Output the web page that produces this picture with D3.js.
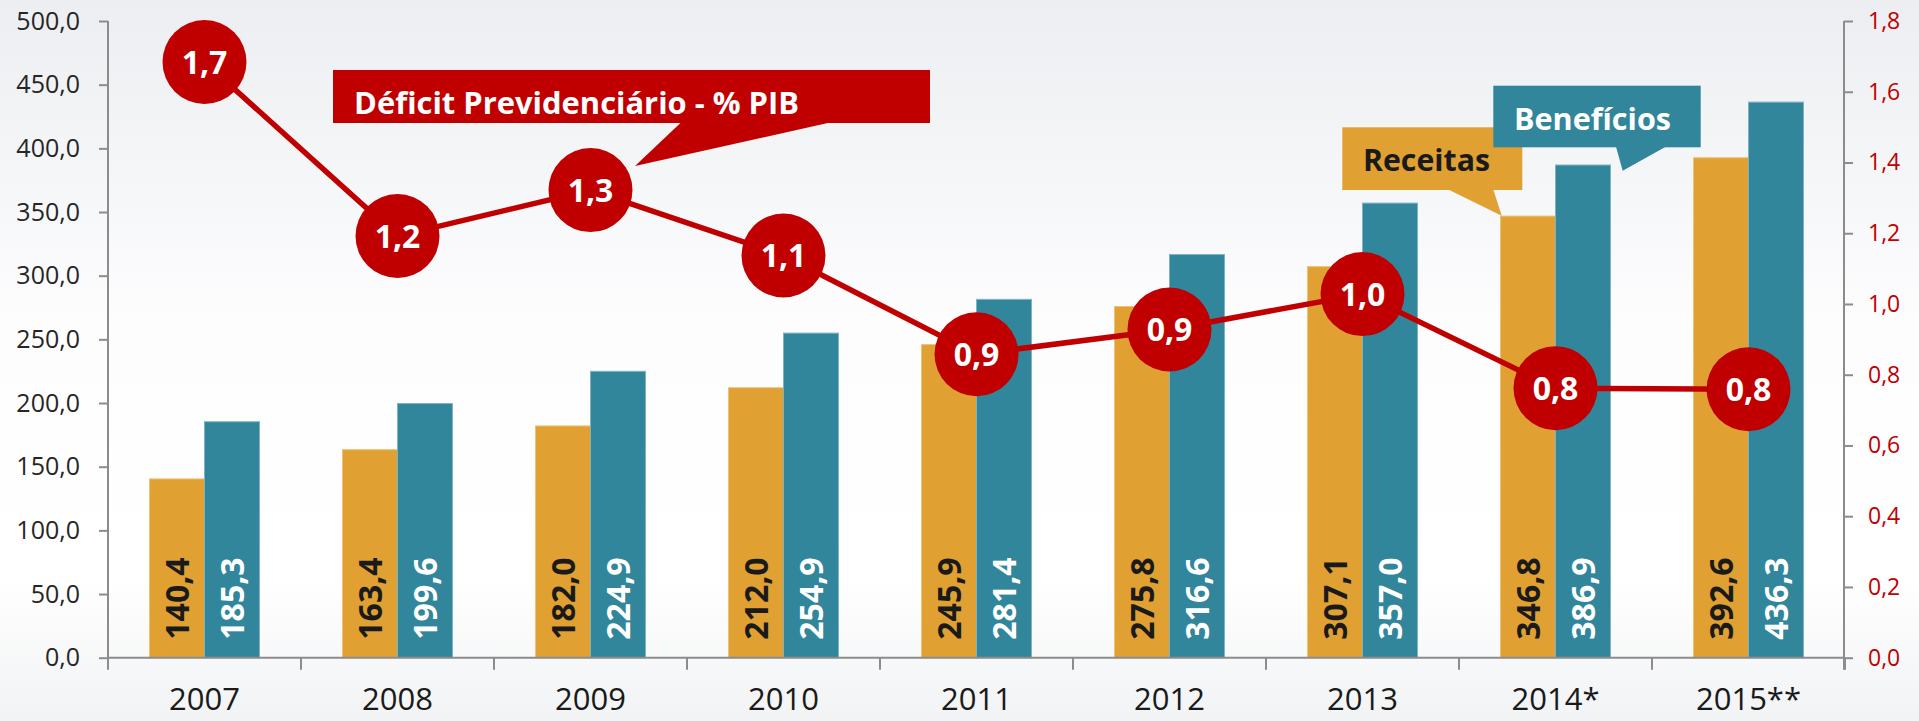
<!DOCTYPE html>
<html>
<head>
<meta charset="utf-8">
<script src="https://cdn.jsdelivr.net/npm/d3@7"></script>
<style>
  html, body { margin: 0; padding: 0; background: #fff; }
  svg { display: block; font-family: "Open Sans", sans-serif; }
</style>
</head>
<body>
<svg id="chart" width="1919" height="721"></svg>
<script>
// ---- data ----
const years = ["2007", "2008", "2009", "2010", "2011", "2012", "2013", "2014*", "2015**"];
const receitas = [140.4, 163.4, 182.0, 212.0, 245.9, 275.8, 307.1, 346.8, 392.6];
const beneficios = [185.3, 199.6, 224.9, 254.9, 281.4, 316.6, 357.0, 386.9, 436.3];
const deficitPIB = [1.684, 1.192, 1.322, 1.137, 0.858, 0.928, 1.028, 0.762, 0.759];
const leftTicks = [0, 50, 100, 150, 200, 250, 300, 350, 400, 450, 500];
const rightTicks = [0, 0.2, 0.4, 0.6, 0.8, 1.0, 1.2, 1.4, 1.6, 1.8];
const seriesNames = ["Receitas", "Benefícios"];
const lineTitle = "Déficit Previdenciário - % PIB";

// ---- styles ----
const ORANGE = "#E0A032", BLUE = "#32869C", RED = "#C00000", AXIS = "#8C8C8C";
const fmt = v => d3.format(".1f")(v).replace(".", ",");

const svg = d3.select("#chart");
const W = 1919, H = 721;

// background gradient
const defs = svg.append("defs");
const grad = defs.append("linearGradient").attr("id", "bg").attr("x1", 0).attr("y1", 0).attr("x2", 0).attr("y2", 1);
grad.append("stop").attr("offset", "0%").attr("stop-color", "#ECEEF1");
grad.append("stop").attr("offset", "45%").attr("stop-color", "#FDFDFE");
grad.append("stop").attr("offset", "80%").attr("stop-color", "#FFFFFF");
grad.append("stop").attr("offset", "100%").attr("stop-color", "#F2F3F5");
svg.append("rect").attr("width", W).attr("height", H).attr("fill", "url(#bg)");

// ---- scales ----
const plotLeft = 108, plotRight = 1845, plotTop = 21, plotBottom = 657.7;
const x = d3.scaleBand().domain(years).range([plotLeft, plotRight]).padding(0);
const inner = d3.scaleBand().domain(seriesNames)
  .range([x.bandwidth() * 0.215, x.bandwidth() * 0.785]).padding(0);
const yL = d3.scaleLinear().domain([0, 500]).range([plotBottom, plotTop]);
const yR = d3.scaleLinear().domain([0, 1.8]).range([plotBottom, plotTop]);

// ---- bars ----
const barData = [];
years.forEach((yr, i) => {
  barData.push({ yr, s: "Receitas", v: receitas[i] });
  barData.push({ yr, s: "Benefícios", v: beneficios[i] });
});
const bars = svg.append("g");
bars.selectAll("rect").data(barData).join("rect")
  .attr("x", d => x(d.yr) + inner(d.s))
  .attr("width", inner.bandwidth())
  .attr("y", d => yL(d.v))
  .attr("height", d => yL(0) - yL(d.v))
  .attr("fill", d => d.s === "Receitas" ? ORANGE : BLUE)
  .attr("stroke", d => d.s === "Receitas" ? "#EDC27A" : "#7FB3C4")
  .attr("stroke-width", 1);

bars.selectAll("text").data(barData).join("text")
  .attr("transform", d => `translate(${x(d.yr) + inner(d.s) + inner.bandwidth() / 2},${yL(0) - 18}) rotate(-90)`)
  .attr("dy", "0.36em")
  .attr("font-size", 32).attr("font-weight", 700)
  .attr("fill", d => d.s === "Receitas" ? "#1A1A1A" : "#FFFFFF")
  .text(d => fmt(d.v));

// ---- axes ----
const axL = svg.append("g").attr("transform", `translate(${plotLeft},0)`)
  .call(d3.axisLeft(yL).tickValues(leftTicks).tickSize(9).tickPadding(19).tickFormat(fmt));
axL.select(".domain").attr("stroke", AXIS).attr("stroke-width", 2).attr("d", `M0,${plotTop}V${plotBottom}`);
axL.selectAll(".tick line").attr("stroke", AXIS).attr("stroke-width", 2);
axL.selectAll(".tick text").attr("font-size", 25).attr("fill", "#262626").attr("font-family", "Open Sans");

const axR = svg.append("g").attr("transform", `translate(${plotRight - 1},0)`)
  .call(d3.axisRight(yR).tickValues(rightTicks).tickSize(9).tickPadding(15).tickFormat(fmt));
axR.select(".domain").attr("stroke", AXIS).attr("stroke-width", 2).attr("d", `M0,${plotTop}V${plotBottom + 12}`);
axR.selectAll(".tick line").attr("stroke", AXIS).attr("stroke-width", 2);
axR.selectAll(".tick text").attr("font-size", 23).attr("fill", RED).attr("font-family", "Open Sans");

const axB = svg.append("g").attr("transform", `translate(0,${plotBottom})`)
  .call(d3.axisBottom(x).tickSize(0).tickPadding(30));
axB.select(".domain").attr("stroke", AXIS).attr("stroke-width", 2).attr("d", `M${plotLeft},0H${plotRight}`);
axB.selectAll(".tick text").attr("font-size", 31).attr("fill", "#1A1A1A").attr("font-family", "Open Sans");
// category boundary ticks
svg.append("g").selectAll("line").data(years.concat(["__end"])).join("line")
  .attr("x1", (d, i) => i < years.length ? x(d) : x(years[years.length - 1]) + x.bandwidth())
  .attr("x2", (d, i) => i < years.length ? x(d) : x(years[years.length - 1]) + x.bandwidth())
  .attr("y1", plotBottom).attr("y2", plotBottom + 12)
  .attr("stroke", AXIS).attr("stroke-width", 2);

// ---- line ----
const cx = (i) => x(years[i]) + x.bandwidth() / 2;
const line = d3.line().x((d, i) => cx(i)).y(d => yR(d));
svg.append("path").datum(deficitPIB).attr("d", line)
  .attr("fill", "none").attr("stroke", RED).attr("stroke-width", 5.5);

// ---- callouts ----
function callout(rect, tail, fill, label, tx, ty, tlen, tcolor, fs) {
  const g = svg.append("g");
  g.append("rect").attr("x", rect[0]).attr("y", rect[1])
    .attr("width", rect[2] - rect[0]).attr("height", rect[3] - rect[1]).attr("fill", fill);
  g.append("path").attr("d", `M${tail[0]},${rect[3] - 0.5}L${tail[2]},${tail[3]}L${tail[1]},${rect[3] - 0.5}Z`).attr("fill", fill);
  g.append("text").attr("x", tx).attr("y", ty)
    .attr("font-size", fs).attr("font-weight", 700).attr("fill", tcolor)
    .attr("textLength", tlen).attr("lengthAdjust", "spacingAndGlyphs")
    .text(label);
}
callout([333, 70, 930, 123], [681, 830, 635, 166], RED, lineTitle, 354, 114, 445, "#FFFFFF", 31);
callout([1342.3, 127.3, 1522.3, 190], [1448.3, 1493.3, 1501.7, 215.7], ORANGE, seriesNames[0], 1363, 171, 127, "#1A1A1A", 30);
callout([1493.3, 85.7, 1700.7, 147.3], [1616, 1665.7, 1622.7, 170.7], BLUE, seriesNames[1], 1514, 130, 157, "#FFFFFF", 30);

// ---- markers ----
const mk = svg.append("g");
mk.selectAll("circle").data(deficitPIB).join("circle")
  .attr("cx", (d, i) => cx(i)).attr("cy", d => yR(d)).attr("r", 42)
  .attr("fill", RED);
mk.selectAll("text").data(deficitPIB).join("text")
  .attr("x", (d, i) => cx(i)).attr("y", d => yR(d))
  .attr("dy", "0.36em").attr("text-anchor", "middle")
  .attr("font-size", 32).attr("font-weight", 700).attr("fill", "#FFFFFF")
  .text(d => fmt(d));
</script>
</body>
</html>
